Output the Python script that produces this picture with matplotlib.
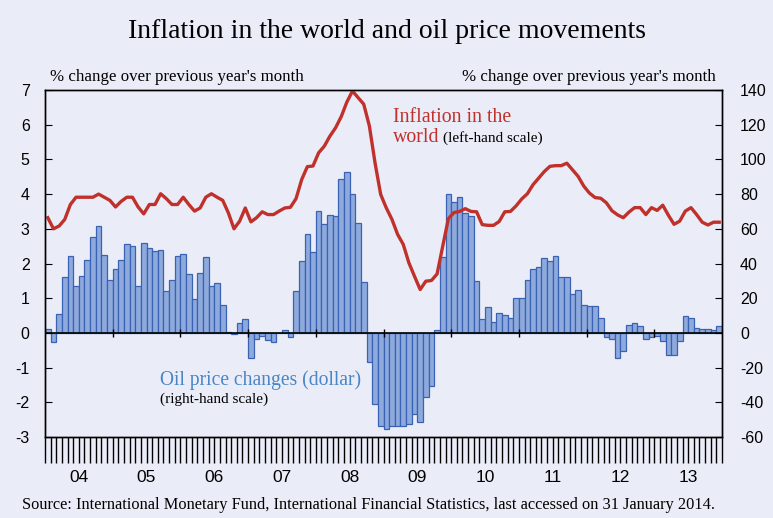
import numpy as np
import matplotlib
matplotlib.use("Agg")
import matplotlib.pyplot as plt
import matplotlib.transforms as mtransforms

# monthly data, Jan 2004 .. Dec 2013
years = ["04", "05", "06", "07", "08", "09", "10", "11", "12", "13"]

# world inflation, % yoy (left-hand scale)
inflation = [
    3.32, 3.00, 3.08, 3.27, 3.70, 3.91, 3.91, 3.91, 3.91, 4.00, 3.91, 3.82,
    3.63, 3.79, 3.91, 3.91, 3.63, 3.43, 3.70, 3.70, 4.01, 3.87, 3.70, 3.70,
    3.91, 3.70, 3.51, 3.60, 3.91, 4.01, 3.91, 3.82, 3.46, 3.00, 3.22, 3.60,
    3.20, 3.32, 3.49, 3.41, 3.41, 3.51, 3.60, 3.62, 3.87, 4.42, 4.79, 4.81,
    5.19, 5.38, 5.67, 5.91, 6.23, 6.65, 6.97, 6.78, 6.59, 5.96, 4.90, 3.99,
    3.60, 3.27, 2.84, 2.55, 2.02, 1.63, 1.25, 1.49, 1.51, 1.70, 2.50, 3.29,
    3.47, 3.50, 3.58, 3.50, 3.49, 3.12, 3.10, 3.10, 3.21, 3.49, 3.50, 3.66,
    3.86, 4.01, 4.27, 4.46, 4.65, 4.80, 4.82, 4.82, 4.89, 4.70, 4.51, 4.23,
    4.03, 3.90, 3.88, 3.75, 3.52, 3.40, 3.32, 3.48, 3.61, 3.61, 3.41, 3.61,
    3.53, 3.68, 3.39, 3.13, 3.22, 3.51, 3.61, 3.41, 3.19, 3.11, 3.19, 3.19,
]

# oil price changes in dollar, % yoy (right-hand scale)
oil = [
    2.0, -5.0, 11.0, 32.0, 44.4, 27.0, 32.7, 41.9, 55.0, 61.7, 45.0, 30.7,
    36.7, 42.3, 51.3, 50.3, 27.0, 51.9, 48.8, 47.3, 48.0, 24.2, 30.4, 44.6,
    45.7, 34.0, 19.8, 34.4, 43.6, 26.9, 28.6, 16.1, 0.4, -0.6, 5.8, 8.0,
    -14.4, -3.5, -1.5, -4.2, -5.2, 0.0, 1.5, -2.3, 24.4, 41.7, 57.0, 46.7,
    70.1, 62.8, 68.0, 67.4, 88.9, 93.0, 80.1, 63.4, 29.4, -16.9, -40.7, -53.4,
    -55.3, -53.8, -53.5, -53.4, -52.3, -46.7, -51.1, -37.1, -30.7, 1.9, 43.6, 80.3,
    75.5, 78.6, 69.0, 67.4, 29.8, 8.1, 15.2, 6.0, 11.3, 10.4, 8.8, 20.2,
    20.2, 30.7, 36.9, 38.0, 43.0, 41.5, 44.6, 32.3, 32.3, 22.3, 24.6, 15.8,
    15.4, 15.4, 8.5, -2.2, -3.8, -14.4, -10.2, 4.8, 5.8, 3.7, -3.8, -2.5,
    -1.5, -4.6, -12.9, -13.0, -4.6, 10.0, 8.8, 2.9, 2.3, 2.1, 1.5, 4.2,
]

left_ticks = [-3, -2, -1, 0, 1, 2, 3, 4, 5, 6, 7]
right_ticks = [-60, -40, -20, 0, 20, 40, 60, 80, 100, 120, 140]

BG = "#eaedf8"
RED = "#c0312b"
BLUE_FILL = "#8eaadd"
BLUE_EDGE = "#3a62b4"
BLUE_TEXT = "#4a86c6"
SERIF = "Liberation Serif"
SANS = "Liberation Sans"

n = len(inflation)
x = np.arange(n) + 0.5

fig = plt.figure(figsize=(7.73, 5.18), dpi=100)
fig.patch.set_facecolor(BG)
ax = fig.add_axes([45 / 773, 81 / 518, 677 / 773, 347 / 518])
ax2 = ax.twinx()

# bars below the line: line axis on top
ax.set_zorder(ax2.get_zorder() + 1)
ax.patch.set_visible(False)
ax2.patch.set_facecolor("white")

ax2.bar(x, oil, width=1.0, color=BLUE_FILL, edgecolor=BLUE_EDGE, linewidth=0.9)
ax.plot(x, inflation, color=RED, linewidth=2.4, solid_joinstyle="round")

ax.set_xlim(0, n)
ax.set_ylim(left_ticks[0], left_ticks[-1])
ax2.set_ylim(right_ticks[0], right_ticks[-1])

ax.axhline(0, color="black", linewidth=1.2, zorder=3)
year_edges = np.arange(0, n + 1, 12)
ax.vlines(year_edges[1:-1], -0.12, 0.12, color="black", linewidth=1.0, zorder=3)

for a in (ax, ax2):
    for s in a.spines.values():
        s.set_linewidth(1.0)
        s.set_color("black")

ax.set_yticks(left_ticks)
ax.set_yticklabels([str(t) for t in left_ticks], family=SANS, fontsize=11.5)
ax.tick_params(axis="y", direction="in", length=5, pad=11, left=True, right=False)
ax2.set_yticks(right_ticks)
ax2.set_yticklabels([str(t) for t in right_ticks], family=SANS, fontsize=11.5)
ax2.tick_params(axis="y", direction="in", length=5, pad=13)

# month ticks and year separators under the plot
ax.set_xticks(year_edges)
ax.set_xticks(np.arange(n + 1), minor=True)
ax.set_xticklabels([])
ax.tick_params(axis="x", which="major", direction="out", length=37, width=1.0, color="#333333")
ax.tick_params(axis="x", which="minor", direction="out", length=19, width=1.0)
ax2.set_xticks([])

trans = mtransforms.blended_transform_factory(ax.transData, ax.transAxes)
for i, yr in enumerate(years):
    ax.text(year_edges[i] + 6, -0.118, yr, transform=trans, ha="center", va="center",
            family=SANS, fontsize=12.5)

fig.text(0.5, 1 - 31 / 518, "Inflation in the world and oil price movements",
         ha="center", va="center", family=SERIF, fontsize=20)
fig.text(50 / 773, 1 - 77 / 518, "% change over previous year's month",
         ha="left", va="center", family=SERIF, fontsize=12.2)
fig.text(716 / 773, 1 - 77 / 518, "% change over previous year's month",
         ha="right", va="center", family=SERIF, fontsize=12.2)
fig.text(22 / 773, 1 - 505 / 518,
         "Source: International Monetary Fund, International Financial Statistics, "
         "last accessed on 31 January 2014.",
         ha="left", va="center", family=SERIF, fontsize=11.8)

# inflation label: two lines, small note after "world"
lab_x, lab_y = 0.514, 0.850
ax.text(lab_x, lab_y + 20 / 347, "Inflation in the", transform=ax.transAxes, color=RED,
        family=SERIF, fontsize=14.3, ha="left", va="baseline")
w = ax.text(lab_x, lab_y, "world", transform=ax.transAxes, color=RED,
            family=SERIF, fontsize=14.3, ha="left", va="baseline")
renderer = fig.canvas.get_renderer()
world_w = w.get_window_extent(renderer).width
note_x = lab_x + (world_w + 4) / ax.get_window_extent(renderer).width
ax.text(note_x, lab_y, "(left-hand scale)", transform=ax.transAxes,
        family=SERIF, fontsize=11, ha="left", va="baseline")

ax.text(0.170, 0.164, "Oil price changes (dollar)", transform=ax.transAxes,
        color=BLUE_TEXT, family=SERIF, fontsize=14.1, ha="left", va="center")
ax.text(0.170, 0.110, "(right-hand scale)", transform=ax.transAxes,
        family=SERIF, fontsize=11, ha="left", va="center")

fig.savefig("out.png", dpi=100, facecolor=BG)
